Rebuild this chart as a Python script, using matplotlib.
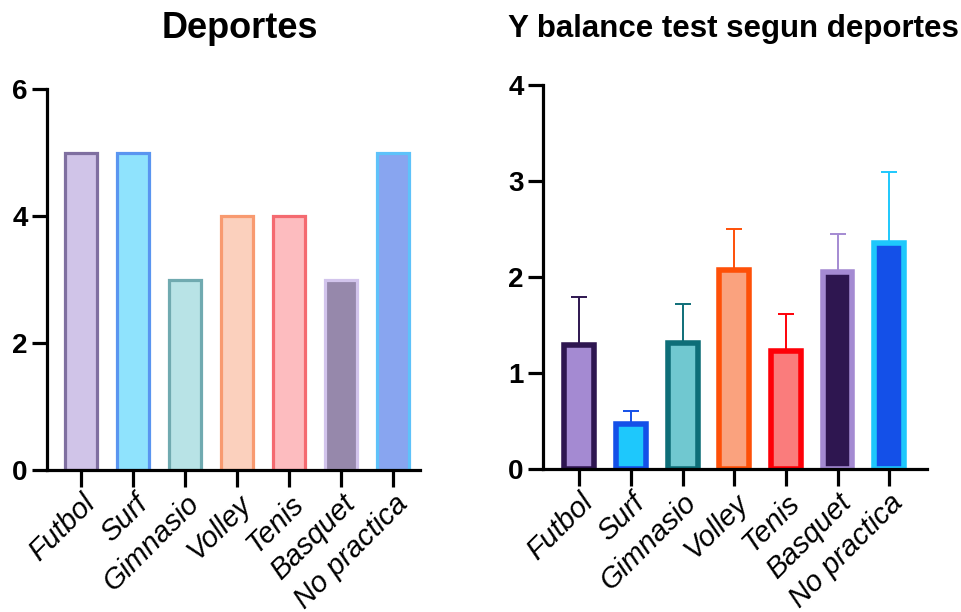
import numpy as np
import matplotlib
matplotlib.use('Agg')
import matplotlib.pyplot as plt

plt.rcParams['font.family'] = ['Liberation Sans', 'DejaVu Sans']

deportes = ['Futbol', 'Surf', 'Gimnasio', 'Volley', 'Tenis', 'Basquet', 'No practica']

# left chart: counts per sport
conteo = [5, 5, 3, 4, 4, 3, 5]
fill_left = ['#d0c4e8', '#8fe3fd', '#b8e3e6', '#fbd0bd', '#fdbcbf', '#9688ab', '#88a5f0']
edge_left = ['#7f6fa0', '#5a95f0', '#70aab0', '#f89a70', '#f46a70', '#d2c4ec', '#5ec2fa']

# right chart: Y balance mean and upper error
ybal_mean = [1.29, 0.47, 1.31, 2.07, 1.23, 2.05, 2.35]
ybal_err = [0.50, 0.13, 0.41, 0.43, 0.38, 0.40, 0.74]
fill_right = ['#a48ad2', '#1ec8fc', '#70c8d0', '#faa27e', '#fa7c7c', '#2e1650', '#1450e8']
edge_right = ['#2e1650', '#1450e8', '#0e6e78', '#fe5008', '#fe0008', '#a48ad2', '#1ec8fc']

fig = plt.figure(figsize=(9.62, 6.12), dpi=100)
ax1 = fig.add_axes([0.049, 0.232, 0.388, 0.6225])
ax2 = fig.add_axes([0.5645, 0.2337, 0.399, 0.6275])

x = np.arange(len(deportes))

ax1.bar(x, conteo, width=0.62, color=fill_left, edgecolor=edge_left, linewidth=2.3, zorder=2)
ax1.set_xlim(-0.65, 6.52)
ax1.set_ylim(0, 6)
ax1.set_yticks([0, 2, 4, 6])

ax2.bar(x, ybal_mean, width=0.58, color=fill_right, edgecolor=edge_right, linewidth=4, zorder=2)
for i in range(len(deportes)):
    ax2.errorbar(x[i], ybal_mean[i], yerr=[[0], [ybal_err[i]]], fmt='none',
                 ecolor=edge_right[i], elinewidth=1.4, capsize=6, capthick=1.4, zorder=1)
ax2.set_xlim(-0.7, 6.73)
ax2.set_ylim(0, 4)
ax2.set_yticks([0, 1, 2, 3, 4])

for ax in (ax1, ax2):
    for s in ['top', 'right']:
        ax.spines[s].set_visible(False)
    for s in ['left', 'bottom']:
        ax.spines[s].set_linewidth(2.3)
    ax.tick_params(axis='y', length=11, width=2.3, pad=3, labelsize=20)
    ax.tick_params(axis='x', length=12, width=2.3, pad=2)
    for lab in ax.get_yticklabels():
        lab.set_fontweight('bold')
    ax.set_xticks(x)
    ax.set_xticklabels(deportes, rotation=45, ha='right', rotation_mode='anchor',
                       fontsize=21, fontstyle='italic')

fig.text(0.249, 1 - 38 / 612, 'Deportes', ha='center', va='baseline',
         fontsize=26, fontweight='bold')
fig.text(0.762, 1 - 37 / 612, 'Y balance test segun deportes', ha='center', va='baseline',
         fontsize=22.5, fontweight='bold')

fig.savefig('out.png', dpi=100)
